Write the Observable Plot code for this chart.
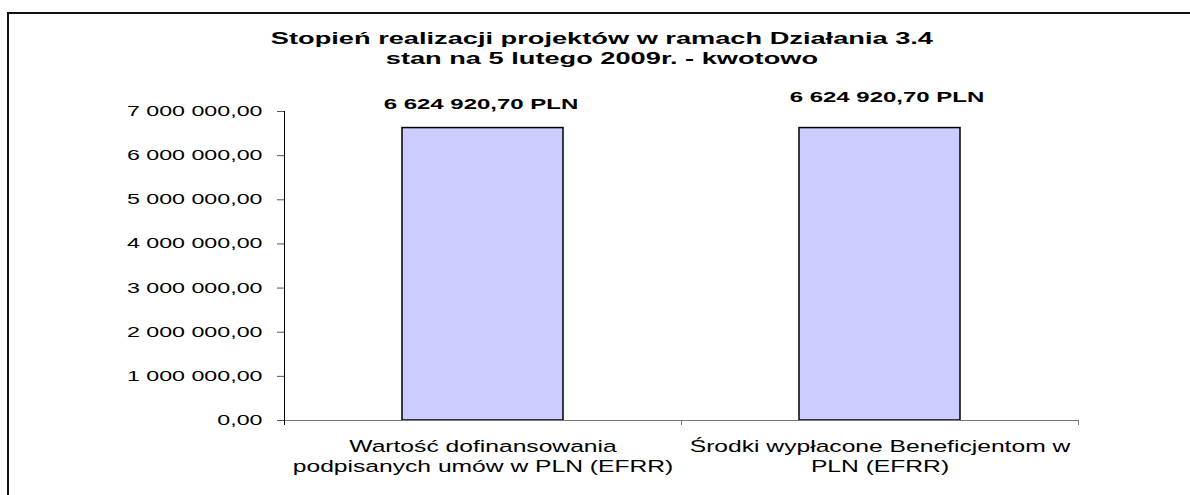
<!DOCTYPE html>
<html><head><meta charset="utf-8">
<script src="https://cdn.jsdelivr.net/npm/d3@7"></script>
<script src="https://cdn.jsdelivr.net/npm/@observablehq/plot@0.6"></script>
<style>
body{margin:0;background:#fff;font-family:"Liberation Sans",Arial,sans-serif;}
#wrap{position:relative;width:1190px;height:495px;overflow:hidden;}
#frame{position:absolute;left:7px;top:12px;width:1200px;height:500px;border-left:2px solid #111;border-top:2px solid #111;box-sizing:border-box;}
#title{height:80px;box-sizing:border-box;padding-top:29px;padding-left:14px;text-align:center;font-weight:bold;font-size:17px;line-height:20px;color:#000;}
#title span{display:inline-block;transform:scaleX(1.6);}
</style></head><body>
<div id="wrap"><div id="frame"></div><div id="title"><span id="tt"></span></div><div id="chart"></div></div>
<script>
const titleLines = ["Stopień realizacji projektów w ramach Działania 3.4", "stan na 5 lutego 2009r. - kwotowo"];
const categories = ["Wartość dofinansowania\npodpisanych umów w PLN (EFRR)", "Środki wypłacone Beneficjentom w\nPLN (EFRR)"];
const values = [6624920.70, 6624920.70];
const yTicks = [0, 1000000, 2000000, 3000000, 4000000, 5000000, 6000000, 7000000];
const unit = "PLN";

document.getElementById("tt").innerHTML = titleLines.join("<br>");

const pl = d3.formatLocale({decimal: ",", thousands: " ", grouping: [3], currency: ["", ""]});
const fmt = pl.format(",.2f");
const data = categories.map((c, i) => ({category: c, value: values[i]}));

const W = 1190, H = 415, mL = 284, mR = 112, mT = 31, mB = 75;
const step = (W - mL - mR) / categories.length;

const chart = Plot.plot({
  width: W, height: H,
  marginLeft: mL, marginRight: mR, marginTop: mT, marginBottom: mB,
  style: {fontFamily: '"Liberation Sans", Arial, sans-serif', color: "#000", background: "transparent"},
  x: {domain: categories, paddingInner: 0.595, paddingOuter: 0.2975},
  y: {domain: [0, 7000000]},
  marks: [
    Plot.barY(data, {x: "category", y: "value", fill: "#CCCCFF", stroke: "#000", strokeWidth: 1.5}),
    Plot.ruleY([0], {stroke: "#777", insetLeft: -7}),
    Plot.ruleX(data.slice(0, 1), {x: "category", y1: 7000000, y2: 0, dx: -step / 2, insetBottom: -5, stroke: "#000"}),
    Plot.ruleX(data, {x: "category", y1: 0, y2: 0, dx: step / 2, insetBottom: -5, stroke: "#777"}),
    Plot.axisY({ticks: yTicks, tickFormat: fmt, tickSize: 7, tickPadding: 15, fontSize: 14, stroke: "#555", label: null}),
    Plot.axisX({tickSize: 0, tickPadding: 17, fontSize: 17, lineHeight: 1.2, label: null, lineAnchor: "top"}),
    Plot.text(data, {filter: (d, i) => i === 0, x: "category", y: "value", text: d => `${fmt(d.value)} ${unit}`, dy: -24, dx: -2, fontSize: 15, fontWeight: "bold", lineAnchor: "middle"}),
    Plot.text(data, {filter: (d, i) => i === 1, x: "category", y: "value", text: d => `${fmt(d.value)} ${unit}`, dy: -31, dx: 7, fontSize: 15, fontWeight: "bold", lineAnchor: "middle"})
  ]
});

// the reference renders its glyphs horizontally stretched: widen each text around its own anchor
const stretchBy = {"y-axis tick label": 1.66, "x-axis tick label": 1.45, "text": 1.6};
chart.querySelectorAll("g[aria-label]").forEach(g => {
  const s = stretchBy[g.getAttribute("aria-label")];
  if (!s) return;
  g.querySelectorAll("text").forEach(t => {
    const tr = t.getAttribute("transform");
    if (tr) t.setAttribute("transform", tr + ` scale(${s},1)`);
    else {
      const x = +t.getAttribute("x") || 0, y = +t.getAttribute("y") || 0;
      t.removeAttribute("x"); t.removeAttribute("y");
      t.setAttribute("transform", `translate(${x},${y}) scale(${s},1)`);
    }
  });
});
document.getElementById("chart").appendChild(chart);
</script>
</body></html>
